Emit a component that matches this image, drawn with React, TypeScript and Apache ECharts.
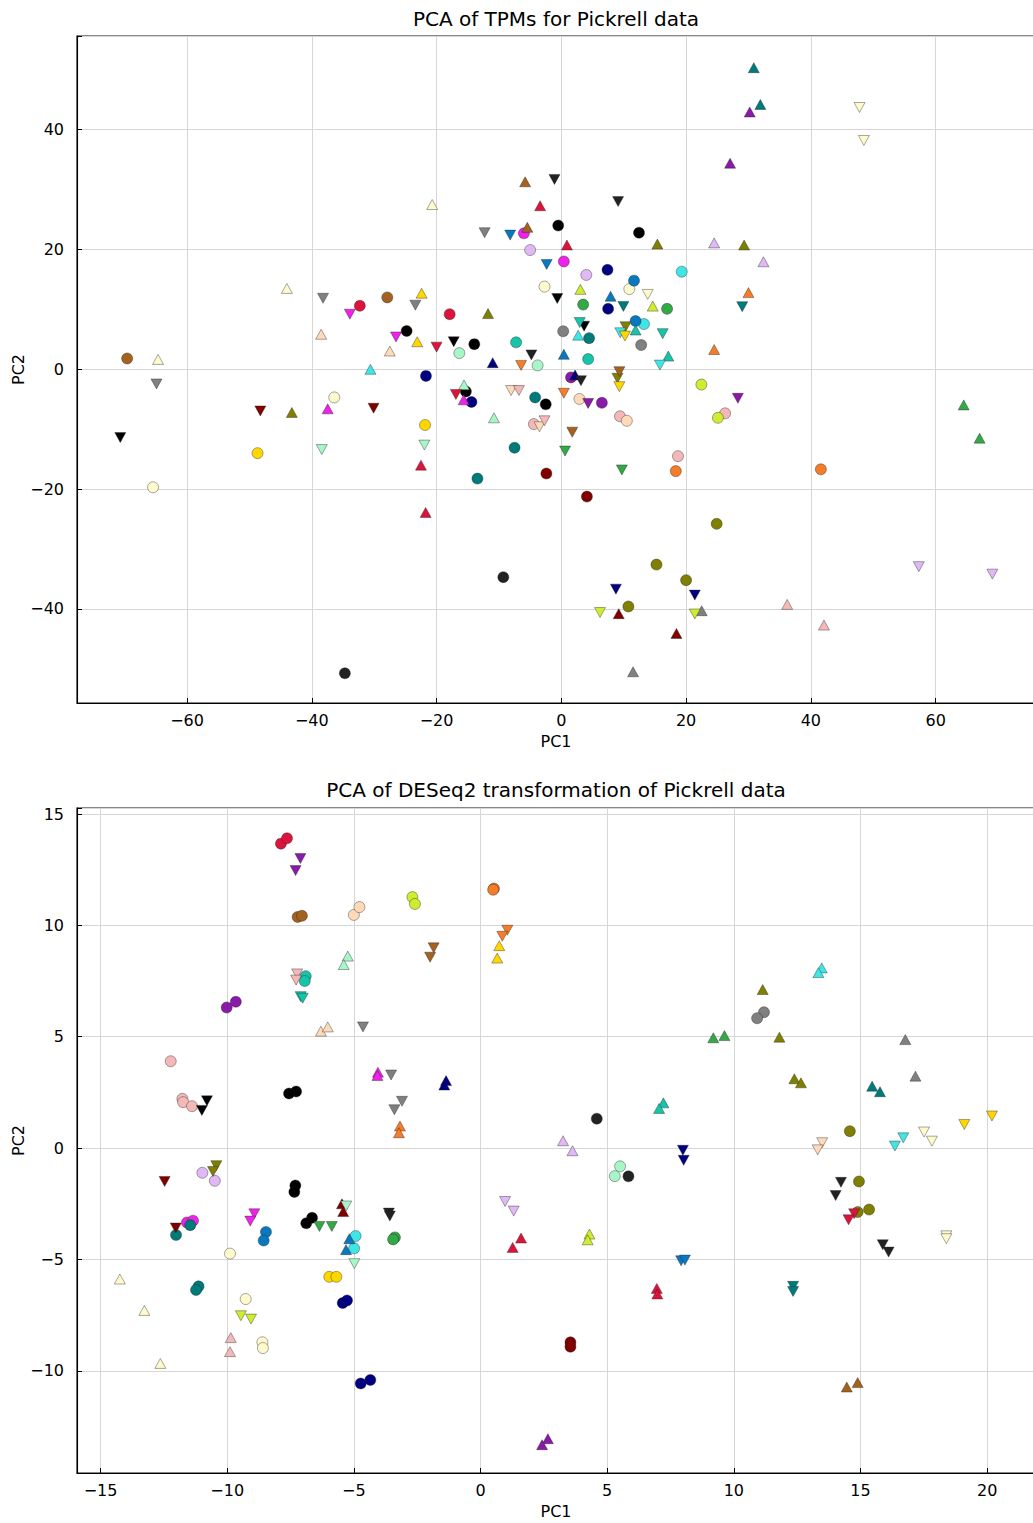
import React, { useEffect, useRef } from "react";
import * as echarts from "echarts";

type Pt = [string, number, number];

const palette: Record<string, string> = {
  brown: "#a5621f",
  paleyellow: "#fffacd",
  gray: "#808080",
  crimson: "#dc143c",
  magenta: "#ee22e8",
  peach: "#ffdab9",
  cyan: "#40e6e6",
  seaturq: "#16c4aa",
  teal: "#007b7b",
  black: "#000000",
  dark: "#222222",
  navy: "#000080",
  gold: "#ffd700",
  olive: "#808000",
  darkred: "#800000",
  green: "#33a846",
  palegreen: "#a8f5c8",
  orange: "#f57c28",
  purple: "#8a1aa8",
  lavender: "#dfb8f5",
  pink: "#f5b8b8",
  ygreen: "#d0ec30",
  blue: "#0a78c0",
};

// ---------- Top: PCA of TPMs ----------
const topCircles: Pt[] = [
  ["brown", -69.6, 1.8], ["brown", -27.9, 12.0],
  ["crimson", -32.3, 10.6], ["crimson", -17.9, 9.2],
  ["paleyellow", -36.4, -4.7], ["paleyellow", -65.45, -19.7], ["paleyellow", -2.7, 13.8], ["paleyellow", 10.9, 13.4],
  ["gold", -48.7, -14.0], ["gold", -21.85, -9.3],
  ["dark", -34.7, -50.75], ["dark", -9.3, -34.7],
  ["magenta", -6.0, 22.7], ["magenta", 0.4, 18.0],
  ["black", -0.5, 24.0], ["black", 12.45, 22.8],
  ["lavender", -5.0, 19.9], ["lavender", 4.0, 15.75],
  ["navy", 7.4, 16.6], ["navy", 7.5, 10.1],
  ["cyan", 19.3, 16.3], ["cyan", 13.25, 7.55],
  ["blue", 11.65, 14.8], ["blue", 11.9, 8.05],
  ["green", 3.5, 10.8], ["green", 16.95, 10.1],
  ["black", -24.8, 6.4], ["black", -13.95, 4.2],
  ["palegreen", -16.35, 2.7], ["palegreen", -3.8, 0.65],
  ["seaturq", -7.25, 4.5], ["seaturq", 4.3, 1.7],
  ["gray", 0.3, 6.35], ["gray", 12.8, 4.05],
  ["teal", 4.45, 5.2],
  ["navy", -21.7, -1.1], ["navy", -14.4, -5.45],
  ["black", -15.3, -3.7], ["black", -2.5, -5.85],
  ["teal", -4.2, -4.7], ["teal", -7.5, -13.1], ["teal", -13.45, -18.25],
  ["pink", -4.4, -9.15], ["pink", 9.4, -7.85], ["pink", 18.7, -14.5], ["pink", 26.25, -7.35],
  ["peach", 2.9, -4.95], ["peach", 10.5, -8.6],
  ["darkred", -2.4, -17.4], ["darkred", 4.1, -21.25],
  ["purple", 1.55, -1.35], ["purple", 6.5, -5.6],
  ["ygreen", 22.45, -2.55], ["ygreen", 25.1, -8.1],
  ["orange", 18.35, -17.0], ["orange", 41.6, -16.7],
  ["olive", 24.9, -25.8], ["olive", 15.25, -32.6], ["olive", 20.0, -35.2], ["olive", 10.75, -39.6],
];

const topUp: Pt[] = [
  ["paleyellow", -64.65, 1.65], ["paleyellow", -44.0, 13.5], ["paleyellow", -20.7, 27.5],
  ["peach", -38.5, 5.85], ["peach", -27.5, 3.05],
  ["cyan", -30.6, 0.0], ["cyan", 2.7, 5.7],
  ["olive", -43.2, -7.2], ["olive", -11.75, 9.3], ["olive", 15.4, 20.9], ["olive", 29.3, 20.75],
  ["magenta", -37.45, -6.6], ["magenta", -15.65, -5.1],
  ["brown", -5.8, 31.3], ["brown", -5.45, 23.7],
  ["crimson", -3.4, 27.3], ["crimson", 0.9, 20.75],
  ["crimson", -22.5, -16.0], ["crimson", -21.75, -23.9],
  ["lavender", 24.5, 21.1], ["lavender", 32.4, 17.95],
  ["ygreen", 3.05, 13.35], ["ygreen", 14.65, 10.55],
  ["blue", 7.9, 12.2], ["blue", 0.4, 2.5],
  ["gold", -22.4, 12.7], ["gold", -23.1, 4.6],
  ["navy", -11.0, 1.1], ["navy", 2.2, -0.95],
  ["seaturq", 11.9, 6.55], ["seaturq", 17.15, 2.2],
  ["orange", 24.5, 3.3], ["orange", 30.0, 12.8],
  ["palegreen", -15.6, -2.6], ["palegreen", -10.8, -8.1],
  ["teal", 30.85, 50.35], ["teal", 31.9, 44.2],
  ["purple", 30.2, 42.95], ["purple", 27.05, 34.4],
  ["darkred", 9.2, -40.8], ["darkred", 18.45, -44.1],
  ["gray", 22.5, -40.3], ["gray", 11.5, -50.5],
  ["green", 64.5, -5.95], ["green", 67.05, -11.5],
  ["pink", 36.2, -39.25], ["pink", 42.1, -42.7],
];

const topDown: Pt[] = [
  ["gray", -64.9, -2.45], ["gray", -38.2, 11.85], ["gray", -23.4, 10.7], ["gray", -12.3, 22.8],
  ["magenta", -33.9, 9.2], ["magenta", -26.5, 5.4],
  ["darkred", -48.25, -6.96], ["darkred", -30.1, -6.5],
  ["black", -70.7, -11.4], ["black", -17.25, 4.6],
  ["palegreen", -38.4, -13.4], ["palegreen", -21.95, -12.65],
  ["dark", -1.1, 31.7], ["dark", 9.1, 28.0],
  ["blue", -8.2, 22.4], ["blue", -2.35, 17.5],
  ["paleyellow", 13.85, 12.5], ["paleyellow", 47.8, 43.7], ["paleyellow", 48.5, 38.2],
  ["black", -0.65, 11.8], ["black", 3.65, 7.2],
  ["teal", 9.95, 10.5], ["teal", 29.0, 10.45],
  ["crimson", -20.0, 3.7], ["crimson", -16.9, -4.2],
  ["dark", -4.8, 2.4], ["dark", 3.15, -1.9],
  ["orange", -6.45, 0.65], ["orange", 0.4, -4.0],
  ["seaturq", 2.95, 7.8], ["seaturq", 16.25, 5.95],
  ["olive", 10.3, 7.1], ["olive", 9.0, -1.5],
  ["cyan", 9.45, 6.1], ["cyan", 15.8, 0.7],
  ["gold", 10.2, 5.55], ["gold", 9.3, -2.9],
  ["peach", -8.05, -3.55], ["peach", -3.5, -9.6],
  ["pink", -6.8, -3.55], ["pink", -2.7, -8.6],
  ["green", 0.6, -13.65], ["green", 9.7, -16.8],
  ["purple", 4.3, -5.7], ["purple", 28.3, -4.85],
  ["brown", 1.75, -10.5], ["brown", 9.3, -0.4],
  ["navy", 8.75, -36.7], ["navy", 21.4, -37.7],
  ["ygreen", 6.2, -40.6], ["ygreen", 21.4, -40.85],
  ["lavender", 57.3, -32.95], ["lavender", 69.1, -34.2],
];

// ---------- Bottom: PCA of DESeq2 transformation ----------
const botCircles: Pt[] = [
  ["crimson", -7.88, 13.67], ["crimson", -7.64, 13.91],
  ["brown", -7.22, 10.38], ["brown", -7.05, 10.43],
  ["peach", -5.0, 10.47], ["peach", -4.78, 10.82],
  ["seaturq", -6.9, 7.72], ["seaturq", -6.94, 7.5],
  ["purple", -10.02, 6.31], ["purple", -9.66, 6.57],
  ["pink", -12.23, 3.9], ["pink", -11.77, 2.21], ["pink", -11.74, 2.06], ["pink", -11.39, 1.88],
  ["black", -7.28, 2.54], ["black", -7.56, 2.45],
  ["ygreen", -2.69, 11.27], ["ygreen", -2.59, 10.96],
  ["orange", 0.53, 11.65], ["orange", 0.5, 11.6],
  ["dark", 4.59, 1.32],
  ["gray", 11.19, 6.1], ["gray", 10.92, 5.83],
  ["olive", 14.58, 0.76],
  ["palegreen", 5.51, -0.82], ["palegreen", 5.3, -1.26],
  ["dark", 5.84, -1.27],
  ["darkred", 3.55, -8.72], ["darkred", 3.55, -8.92],
  ["green", -3.38, -4.01], ["green", -3.45, -4.1],
  ["lavender", -10.98, -1.11], ["lavender", -10.49, -1.47],
  ["magenta", -11.59, -3.34], ["magenta", -11.35, -3.26],
  ["teal", -12.02, -3.9], ["teal", -11.46, -3.46],
  ["paleyellow", -9.89, -4.74],
  ["blue", -8.47, -3.77], ["blue", -8.56, -4.15],
  ["black", -7.31, -1.68], ["black", -7.35, -1.97], ["black", -6.65, -3.13], ["black", -6.88, -3.38],
  ["cyan", -4.93, -3.95], ["cyan", -4.99, -4.5],
  ["teal", -11.13, -6.21], ["teal", -11.23, -6.37],
  ["paleyellow", -9.27, -6.78],
  ["paleyellow", -8.61, -8.72], ["paleyellow", -8.59, -8.98],
  ["gold", -5.97, -5.78], ["gold", -5.69, -5.78],
  ["navy", -5.44, -6.96], ["navy", -5.27, -6.84],
  ["navy", -4.73, -10.57], ["navy", -4.35, -10.41],
  ["olive", 14.94, -1.5], ["olive", 15.34, -2.76], ["olive", 14.89, -2.87],
];

const botUp: Pt[] = [
  ["palegreen", -5.24, 8.62], ["palegreen", -5.4, 8.24],
  ["peach", -6.3, 5.25], ["peach", -6.03, 5.44],
  ["magenta", -4.05, 3.41], ["magenta", -4.07, 3.26],
  ["orange", -3.18, 0.99], ["orange", -3.22, 0.69],
  ["gold", 0.74, 9.09], ["gold", 0.66, 8.53],
  ["green", 9.19, 4.95], ["green", 9.63, 5.05],
  ["navy", -1.36, 3.03], ["navy", -1.43, 2.83],
  ["seaturq", 7.22, 2.03], ["seaturq", 7.05, 1.78],
  ["lavender", 3.26, 0.33], ["lavender", 3.63, -0.12],
  ["olive", 11.14, 7.12], ["olive", 11.8, 4.98], ["olive", 12.39, 3.11], ["olive", 12.65, 2.93],
  ["cyan", 13.47, 8.09], ["cyan", 13.34, 7.88],
  ["gray", 16.77, 4.87], ["gray", 17.17, 3.23],
  ["teal", 15.46, 2.78], ["teal", 15.77, 2.53],
  ["crimson", 1.6, -4.04], ["crimson", 1.27, -4.46],
  ["ygreen", 4.3, -3.86], ["ygreen", 4.23, -4.12],
  ["crimson", 6.96, -6.3], ["crimson", 6.98, -6.55],
  ["purple", 2.66, -13.05], ["purple", 2.43, -13.32],
  ["darkred", -5.47, -2.5], ["darkred", -5.42, -2.85],
  ["blue", -5.18, -4.07], ["blue", -5.31, -4.56],
  ["paleyellow", -14.24, -5.88], ["paleyellow", -13.27, -7.29], ["paleyellow", -12.64, -9.67],
  ["pink", -9.86, -8.51], ["pink", -9.89, -9.14],
  ["brown", 14.89, -10.53], ["brown", 14.46, -10.73],
];

const botDown: Pt[] = [
  ["purple", -7.11, 13.0], ["purple", -7.3, 12.46],
  ["pink", -7.24, 7.82], ["pink", -7.28, 7.54],
  ["seaturq", -7.1, 6.8], ["seaturq", -7.02, 6.73],
  ["gray", -4.64, 5.44], ["gray", -3.53, 3.28], ["gray", -3.1, 2.1], ["gray", -3.4, 1.72],
  ["black", -10.8, 2.12], ["black", -11.0, 1.69],
  ["orange", 1.06, 9.78], ["orange", 0.86, 9.51],
  ["brown", -1.85, 8.99], ["brown", -1.99, 8.57],
  ["gold", 19.1, 1.06], ["gold", 20.19, 1.44],
  ["paleyellow", 17.51, 0.72], ["paleyellow", 17.82, 0.31],
  ["cyan", 16.69, 0.46], ["cyan", 16.36, 0.09],
  ["peach", 13.49, 0.24], ["peach", 13.31, -0.08],
  ["navy", 7.99, -0.1], ["navy", 8.02, -0.55],
  ["lavender", 0.97, -2.4], ["lavender", 1.31, -2.83],
  ["blue", 7.92, -5.06], ["blue", 8.07, -5.03],
  ["dark", 14.23, -1.54], ["dark", 14.02, -2.13],
  ["crimson", 14.75, -2.95], ["crimson", 14.53, -3.22],
  ["paleyellow", 18.39, -3.94], ["paleyellow", 18.39, -4.07],
  ["dark", 15.88, -4.34], ["dark", 16.11, -4.67],
  ["teal", 12.34, -6.21], ["teal", 12.34, -6.44],
  ["darkred", -12.47, -1.5], ["darkred", -12.03, -3.59],
  ["olive", -10.43, -0.79], ["olive", -10.56, -1.05],
  ["magenta", -8.93, -2.95], ["magenta", -9.09, -3.28],
  ["green", -6.36, -3.52], ["green", -5.87, -3.52],
  ["palegreen", -5.3, -2.6], ["palegreen", -4.98, -5.19],
  ["dark", -3.62, -2.92], ["dark", -3.58, -3.05],
  ["ygreen", -9.46, -7.53], ["ygreen", -9.06, -7.68],
];

// axis limits and tick steps
const topX = { min: -77.64, max: 75.93, step: 20 };
const topY = { min: -55.71, max: 55.64, step: 20 };
const botX = { min: -15.93, max: 21.89, step: 5 };
const botY = { min: -14.59, max: 15.27, step: 5 };

const FONT = "DejaVu Sans";

function fmt(step: number) {
  return (v: number) => {
    const r = v / step;
    if (Math.abs(r - Math.round(r)) > 1e-6) return "";
    const n = Math.round(r) * step;
    return n < 0 ? "\u2212" + Math.abs(n) : String(n);
  };
}

function axis(kind: "x" | "y", idx: number, lim: { min: number; max: number; step: number }) {
  return {
    type: "value",
    gridIndex: idx,
    position: kind === "x" ? "bottom" : "left",
    min: lim.min,
    max: lim.max,
    minInterval: lim.step,
    maxInterval: lim.step,
    splitNumber: 8,
    axisLine: { show: true, onZero: false, lineStyle: { color: "#000", width: 1.1 } },
    axisTick: { show: true, inside: true, length: 5, lineStyle: { color: "#000", width: 1 } },
    axisLabel: {
      show: true,
      formatter: fmt(lim.step),
      color: "#000",
      fontSize: 16,
      fontFamily: FONT,
      margin: kind === "x" ? 9 : 13,
    },
    splitLine: { show: true, lineStyle: { color: "#d6d6d6", width: 1 } },
  };
}

function toData(pts: Pt[]) {
  return pts.map(([c, x, y]) => ({ value: [x, y], itemStyle: { color: palette[c] } }));
}

function series(pts: Pt[], idx: number, kind: "circle" | "up" | "down") {
  return {
    type: "scatter",
    xAxisIndex: idx,
    yAxisIndex: idx,
    symbol: kind === "circle" ? "circle" : "triangle",
    symbolSize: kind === "circle" ? 11 : [11, 10],
    symbolRotate: kind === "down" ? 180 : 0,
    silent: true,
    emphasis: { disabled: true },
    itemStyle: { opacity: 1, borderColor: "rgba(30,30,30,0.65)", borderWidth: 0.6 },
    data: toData(pts),
  };
}

function label(text: string, x: number, y: number, size: number, rot = 0) {
  return {
    type: "text",
    x,
    y,
    rotation: rot,
    style: {
      text,
      fontSize: size,
      fontFamily: FONT,
      fill: "#000",
      align: "center",
      verticalAlign: "middle",
    },
  };
}

export default function App() {
  const ref = useRef<HTMLDivElement>(null);
  useEffect(() => {
    if (!ref.current) return;
    const chart = echarts.init(ref.current, undefined, { renderer: "svg" });
    chart.setOption({
      animation: false,
      backgroundColor: "#fff",
      grid: [
        { left: 77, top: 36, width: 958, height: 667, show: true, borderColor: "#111", borderWidth: 1.2, backgroundColor: "transparent", containLabel: false, outerBoundsMode: "none" },
        { left: 77, top: 808, width: 958, height: 665, show: true, borderColor: "#111", borderWidth: 1.2, backgroundColor: "transparent", containLabel: false, outerBoundsMode: "none" },
      ],
      xAxis: [axis("x", 0, topX), axis("x", 1, botX)],
      yAxis: [axis("y", 0, topY), axis("y", 1, botY)],
      series: [
        series(topCircles, 0, "circle"),
        series(topUp, 0, "up"),
        series(topDown, 0, "down"),
        series(botCircles, 1, "circle"),
        series(botUp, 1, "up"),
        series(botDown, 1, "down"),
      ],
      graphic: [
        label("PCA of TPMs for Pickrell data", 556, 19, 20),
        label("PC1", 556, 741, 16),
        label("PC2", 18, 369.5, 16, Math.PI / 2),
        label("PCA of DESeq2 transformation of Pickrell data", 556, 790, 20),
        label("PC1", 556, 1511, 16),
        label("PC2", 18, 1140.5, 16, Math.PI / 2),
      ],
    });
    return () => chart.dispose();
  }, []);
  return (
    <div
      ref={ref}
      style={{ position: "absolute", left: 0, top: 0, width: 1033, height: 1523, background: "#fff" }}
    />
  );
}
